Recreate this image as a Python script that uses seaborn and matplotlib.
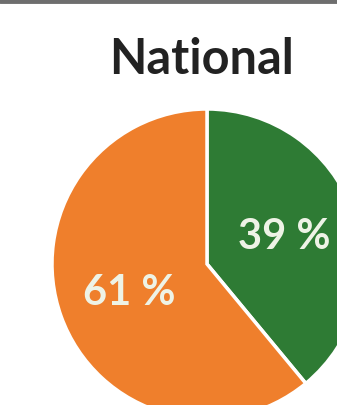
import matplotlib
matplotlib.use("Agg")
import matplotlib.pyplot as plt
import seaborn as sns

labels = ["Green", "Orange"]
shares = [39, 61]
colors = ["#2E7B34", "#EF7F2C"]
title = "National"

sns.set_theme(style="white")
plt.rcParams['font.family'] = ['Lato', 'DejaVu Sans']

fig = plt.figure(figsize=(3.37, 4.06), dpi=100)
ax = fig.add_axes([0, 0, 1, 1])

wedges, texts, autotexts = ax.pie(
    shares, colors=colors, startangle=90, counterclock=False,
    center=(207, 141), radius=155, frame=True,
    autopct=lambda p: "%d %%" % round(p), pctdistance=0.53,
    wedgeprops=dict(edgecolor="white", linewidth=2.5),
    textprops=dict(color="#EEF3E6", fontsize=30, fontweight="bold"))
ax.set_xlim(0, 337)
ax.set_ylim(0, 406)
ax.set_aspect('equal')
ax.axis('off')

# top border
fig.add_artist(plt.Line2D([0, 1], [0.995, 0.995], color="#6E6E6E", linewidth=3.5,
                          transform=fig.transFigure))

fig.text(201 / 337, 1 - 60 / 406, title, ha="center", va="center",
         fontsize=35, fontweight="bold", color="#222222")

fig.savefig("out.png", dpi=100)
